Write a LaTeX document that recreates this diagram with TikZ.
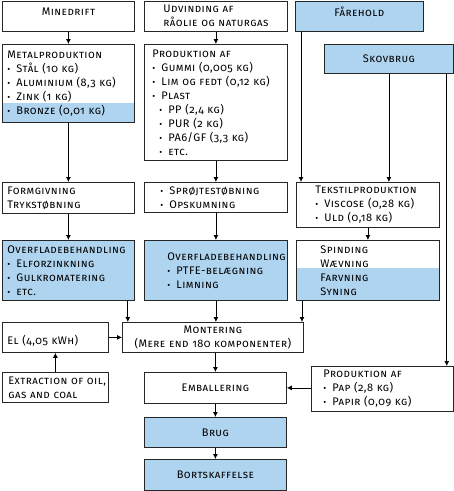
\documentclass[tikz,border=0pt]{standalone}
\usepackage{fontspec}
\setmainfont{Fira Sans}[Numbers=OldStyle,LetterSpace=4]
\usetikzlibrary{arrows.meta}
\definecolor{boxblue}{RGB}{174,212,240}
\newcommand\bul{\makebox[9pt][l]{\small\textbullet}}
\newcommand\subbul{\hspace*{7pt}\bul}
\begin{document}
\begin{tikzpicture}
  [x=1pt,y=-1pt,
   every node/.style={font=\fontsize{11}{14}\selectfont\scshape,inner xsep=0pt,inner ysep=0pt,anchor=north west},
   box/.style={draw=black!85,line width=0.8pt},
   lbox/.style={box,align=left},
   cbox/.style={box,align=center},
   lpad/.style={execute at begin node={\leftskip=#1pt}},
   bluebox/.style={fill=boxblue},
   flow/.style={->,line width=0.8pt},
   >={Latex[length=5pt,width=5pt]}]
  \useasboundingbox (0,0) rectangle (454,491);

  % light blue parts of split boxes
  \fill[boxblue] (2,103) rectangle (134,122);
  \fill[boxblue] (296,268) rectangle (439,300);

  % sources
  \node[cbox,text width=132pt,minimum height=30.5pt,text depth=9.5pt] (mine) at (2,0.5) {Minedrift};
  \node[lbox,lpad=19,text width=143pt,minimum height=30.5pt] (udv) at (144,0.5) {Udvinding af\\råolie og naturgas};
  \node[cbox,bluebox,text width=128pt,minimum height=30.5pt,text depth=9.5pt] (fare) at (295,0.5) {Fårehold};
  \node[cbox,bluebox,text width=129pt,minimum height=29pt] (skov) at (324,44) {Skovbrug};

  % materials
  \node[lbox,lpad=5,text width=132pt,minimum height=78pt] (metal) at (2,44)
    {Metalproduktion\\\bul Stål (10 kg)\\\bul Aluminium (8,3 kg)\\\bul Zink (1 kg)\\\bul Bronze (0,01 kg)};
  \node[lbox,lpad=8,text width=143pt,minimum height=116pt] (prod) at (144,44)
    {Produktion af\\\bul Gummi (0,005 kg)\\\bul Lim og fedt (0,12 kg)\\\bul Plast\\\subbul PP (2,4 kg)\\\subbul PUR (2 kg)\\\subbul PA6/GF (3,3 kg)\\\subbul etc.};

  % forming
  \node[lbox,lpad=5,text width=132pt,minimum height=31pt] (form) at (2,182) {Formgivning\\Trykstøbning};
  \node[lbox,lpad=16,text width=143pt,minimum height=30pt] (sproj) at (144,182) {\bul Sprøjtestøbning\\\bul Opskumning};
  \node[lbox,lpad=19,text width=143pt,minimum height=45pt] (tekst) at (296,182)
    {Tekstilproduktion\\\bul Viscose (0,28 kg)\\\bul Uld (0,18 kg)};

  % surface treatment
  \node[lbox,bluebox,lpad=5,text width=132pt,minimum height=60pt] (ov1) at (2,240)
    {Overfladebehandling\\\bul Elforzinkning\\\bul Gulkromatering\\\bul etc.};
  \node[lbox,bluebox,lpad=23,text width=143pt,minimum height=60pt] (ov2) at (144,240)
    {Overfladebehandling\\\bul PTFE-belægning\\\bul Limning};
  \node[lbox,lpad=24,text width=143pt,minimum height=60pt] (spin) at (296,240)
    {Spinding\\Wævning\\Farvning\\Syning};

  % assembly and after
  \node[lbox,lpad=5,text width=106pt,minimum height=30pt,text height=17pt] (el) at (2,322) {El (4,05 kWh)};
  \node[cbox,text width=181pt,minimum height=30pt] (mont) at (122,322) {Montering\\(Mere end 180 komponenter)};
  \node[lbox,lpad=6,text width=106pt,minimum height=30pt] (extr) at (2,372) {Extraction of oil,\\gas and coal};
  \node[cbox,text width=142pt,minimum height=31pt] (emb) at (144,372) {Emballering};
  \node[lbox,lpad=12,text width=142pt,minimum height=45pt] (pap) at (311,366)
    {Produktion af\\\bul Pap (2,8 kg)\\\bul Papir (0,09 kg)};
  \node[cbox,bluebox,text width=142pt,minimum height=30pt] (brug) at (144,417) {Brug};
  \node[cbox,bluebox,text width=142pt,minimum height=31pt] (bort) at (144,459) {Bortskaffelse};

  \foreach \from/\to in {mine/metal,udv/prod,metal/form,prod/sproj,form/ov1,sproj/ov2,tekst/spin,extr/el,el/mont,emb/brug,brug/bort}
    \draw[flow] (\from) -- (\to);

  \coordinate (ov1out) at ([xshift=-7pt]ov1.south east);
  \coordinate (spinout) at ([xshift=6pt]spin.south west);
  \coordinate (fareout) at ([xshift=6pt]fare.south west);
  \coordinate (skovout) at ([xshift=-7pt]skov.south east);
  \draw[flow] (ov1out) -- (ov1out |- mont.north);
  \draw[flow] (ov2.south) -- (ov2.south |- mont.north);
  \draw[flow] (spinout) -- (spinout |- mont.north);
  \draw[flow] (fareout) -- (fareout |- tekst.north);
  \draw[flow] (skov.south) -- (skov.south |- tekst.north);
  \draw[flow] (skovout) -- (skovout |- pap.north);
  \draw[flow] (emb.north |- mont.south) -- (emb.north);
  \draw[flow] (emb.east -| pap.west) -- (emb.east);

\end{tikzpicture}
\end{document}
